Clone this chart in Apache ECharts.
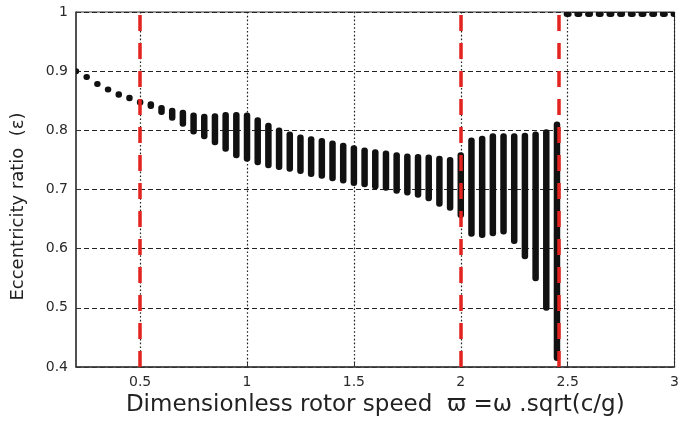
<!DOCTYPE html>
<html>
<head>
<meta charset="utf-8">
<script src="https://cdn.jsdelivr.net/npm/echarts@6/dist/echarts.min.js"></script>
<style>
  html, body { margin: 0; padding: 0; background: #fff; }
  #chart { width: 682px; height: 422px; }
</style>
</head>
<body>
<div id="chart"></div>
<script>
// Dimensionless rotor speed (one column per simulated speed)
const speeds = [
  0.20, 0.25, 0.30, 0.35, 0.40, 0.45, 0.50, 0.55, 0.60, 0.65,
  0.70, 0.75, 0.80, 0.85, 0.90, 0.95, 1.00, 1.05, 1.10, 1.15,
  1.20, 1.25, 1.30, 1.35, 1.40, 1.45, 1.50, 1.55, 1.60, 1.65,
  1.70, 1.75, 1.80, 1.85, 1.90, 1.95, 2.00, 2.05, 2.10, 2.15,
  2.20, 2.25, 2.30, 2.35, 2.40, 2.45, 2.50, 2.55, 2.60, 2.65,
  2.70, 2.75, 2.80, 2.85, 2.90, 2.95, 3.00
];
// Lowest eccentricity ratio reached at each speed
const eccMin = [
  0.897, 0.886, 0.874, 0.864, 0.855, 0.849, 0.842, 0.836, 0.826, 0.816,
  0.806, 0.793, 0.785, 0.775, 0.764, 0.753, 0.747, 0.741, 0.736, 0.733,
  0.730, 0.726, 0.721, 0.718, 0.714, 0.710, 0.706, 0.704, 0.700, 0.698,
  0.693, 0.690, 0.686, 0.680, 0.671, 0.664, 0.652, 0.620, 0.618, 0.621,
  0.624, 0.608, 0.582, 0.545, 0.495, 0.410, 0.993, 0.993, 0.993, 0.993,
  0.993, 0.993, 0.993, 0.993, 0.993, 0.993, 0.993
];
// Highest eccentricity ratio reached at each speed
const eccMax = [
  0.903, 0.894, 0.883, 0.874, 0.866, 0.860, 0.853, 0.849, 0.843, 0.838,
  0.835, 0.830, 0.828, 0.829, 0.831, 0.831, 0.830, 0.822, 0.813, 0.805,
  0.798, 0.793, 0.790, 0.787, 0.783, 0.779, 0.775, 0.771, 0.768, 0.766,
  0.763, 0.761, 0.760, 0.759, 0.757, 0.755, 0.763, 0.788, 0.791, 0.795,
  0.795, 0.795, 0.796, 0.798, 0.802, 0.815, 1.000, 1.000, 1.000, 1.000,
  1.000, 1.000, 1.000, 1.000, 1.000, 1.000, 1.000
];
// Red dashed markers (regime boundaries)
const boundaries = [0.5, 2.0, 2.455];
// Axis tick labels
const xTicks = [0.5, 1, 1.5, 2, 2.5, 3];
const yTicks = [0.4, 0.5, 0.6, 0.7, 0.8, 0.9, 1];

const FONT = 'DejaVu Sans';
const chart = echarts.init(document.getElementById('chart'), null, { renderer: 'canvas' });

const rangeData = speeds.map((s, i) => [s, eccMin[i], eccMax[i]]);

function renderItem(params, api) {
  const x = api.value(0), lo = api.value(1), hi = api.value(2);
  const pTop = api.coord([x, hi]);
  const pBot = api.coord([x, lo]);
  const single = hi - lo < 0.0125;
  const w = single && hi > 0.95 ? 8 : 6.5;
  let y = pTop[1];
  let h = pBot[1] - pTop[1];
  if (h < 6) { y = (pTop[1] + pBot[1]) / 2 - 3; h = 6; }
  return {
    type: 'rect',
    shape: { x: pTop[0] - w / 2, y: y, width: w, height: h, r: 3 },
    style: { fill: '#111' }
  };
}

chart.setOption({
  animation: false,
  backgroundColor: '#fff',
  grid: {
    left: 76, right: 1, top: 12, bottom: 54,
    show: true, borderColor: '#333', borderWidth: 1, backgroundColor: 'transparent'
  },
  xAxis: {
    type: 'value',
    min: 0.2, max: 3,
    name: 'Dimensionless rotor speed  \u03D6 =\u03C9 .sqrt(c/g)',
    nameLocation: 'middle',
    nameGap: 27,
    nameTextStyle: { fontFamily: FONT, fontSize: 23, color: '#222' },
    axisLine: { onZero: false, lineStyle: { color: '#3a3a3a', width: 1.5 } },
    axisTick: { inside: true, length: 4, customValues: xTicks, lineStyle: { color: '#333' } },
    axisLabel: { customValues: xTicks, margin: 8, fontFamily: FONT, fontSize: 14, color: '#2a2a2a' },
    splitLine: { show: true, lineStyle: { color: '#222', width: 1.2, type: [1.6, 2.2] } }
  },
  yAxis: {
    type: 'value',
    min: 0.4, max: 1, interval: 0.1,
    name: 'Eccentricity ratio  (\u03B5)',
    nameLocation: 'middle',
    nameGap: 49,
    nameTextStyle: { fontFamily: FONT, fontSize: 18, color: '#222', padding: [0, 34, 0, 0] },
    axisLine: { onZero: false, lineStyle: { color: '#3a3a3a', width: 1.5 } },
    axisTick: { inside: true, length: 4, lineStyle: { color: '#333' } },
    axisLabel: { margin: 8, fontFamily: FONT, fontSize: 14, color: '#2a2a2a',
      formatter: v => String(Math.round(v * 10) / 10) },
    splitLine: { show: true, lineStyle: { color: '#222', width: 1.2, type: [5, 3] } }
  },
  series: [
    {
      type: 'custom',
      renderItem: renderItem,
      data: rangeData,
      encode: { x: 0, y: [1, 2] },
      clip: true,
      z: 3
    },
    {
      type: 'line',
      data: [],
      z: 10,
      silent: true,
      markLine: {
        silent: true,
        symbol: ['none', 'none'],
        label: { show: false },
        lineStyle: { color: '#e3231f', width: 3.5, type: [16, 12] },
        data: boundaries.map(b => ({ xAxis: b }))
      }
    }
  ]
});
</script>
</body>
</html>
